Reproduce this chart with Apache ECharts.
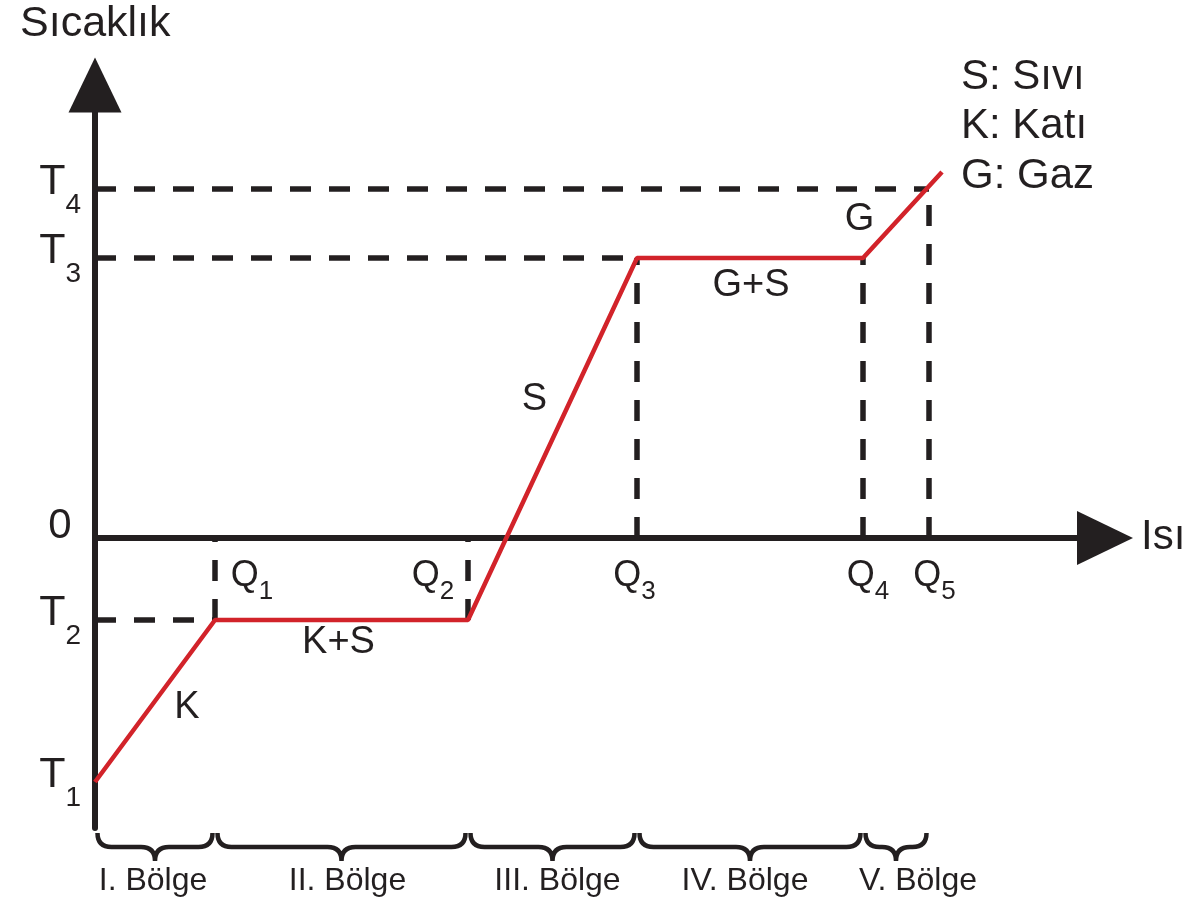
<!DOCTYPE html>
<html><head><meta charset="utf-8">
<script src="https://cdn.jsdelivr.net/npm/echarts@6/dist/echarts.min.js"></script>
<style>html,body{margin:0;padding:0;background:#fff}#main{width:1197px;height:903px}</style>
</head><body><div id="main"></div>
<script>
// ---- data ----
const heatSubs = ['1','2','3','4','5'];
const heatValues = [12.0, 37.3, 54.2, 76.8, 83.4];      // Q1..Q5
const tempSubs = ['1','2','3','4'];
const tempValues = [-24.4, -8.2, 28.0, 34.9];            // T1..T4
const curveEnd = [84.7, 36.6];
const phaseNames = ['K', 'K+S', 'S', 'G+S', 'G'];
const regionNames = ['I. Bölge', 'II. Bölge', 'III. Bölge', 'IV. Bölge', 'V. Bölge'];
const legendLines = ['S: Sıvı', 'K: Katı', 'G: Gaz'];
const axisNames = ['Sıcaklık', 'Isı'];
const xRange = [0, 101];
const yRange = [-29, 45.3];

// ---- styles ----
const FONT = 'Liberation Sans, Arial, Helvetica, sans-serif';
const INK = '#231f20';
const RED = '#d2232a';
const phaseOffsets = [[32, 7], [-3, 23], [-18, -39], [1, 28], [-43, 5]];
const qOffsets = [37, -35, -2.5, 5, 5.5];
const regionOffsets = [-2, 6, 5, -5, 22];

const [Q1, Q2, Q3, Q4, Q5] = heatValues;
const [T1, T2, T3, T4] = tempValues;
const curve = [[0, T1], [Q1, T2], [Q2, T2], [Q3, T3], [Q4, T3], curveEnd];

const dashed = [
  [[0, T2], [Q1, T2]],
  [[0, T3], [Q3, T3]],
  [[0, T4], [Q5, T4]],
  [[Q1, T2], [Q1, 0]],
  [[Q2, T2], [Q2, 0]],
  [[Q3, 0], [Q3, T3]],
  [[Q4, 0], [Q4, T3]],
  [[Q5, 0], [Q5, T4]]
];

const regionBounds = heatValues.map((q, i) => [i === 0 ? 0 : heatValues[i - 1], q, i]);

const phaseMid = phaseNames.map((n, i) => ({
  name: n,
  value: [(curve[i][0] + curve[i + 1][0]) / 2, (curve[i][1] + curve[i + 1][1]) / 2],
  label: { offset: phaseOffsets[i] }
}));

const solid = { opacity: 1 };
const series = [];
dashed.forEach(seg => series.push({
  type: 'line', data: seg, symbol: 'none', silent: true, z: 3,
  lineStyle: { color: INK, width: 5.5, type: [21, 18], cap: 'butt' }
}));
series.push({
  type: 'line', data: curve, symbol: 'none', z: 4, silent: true,
  lineStyle: { color: RED, width: 4.5 }
});
// T labels
series.push({
  type: 'scatter', symbolSize: 0, z: 5, silent: true, itemStyle: solid,
  data: tempValues.map((t, i) => ({ value: [0, t], sub: tempSubs[i] })),
  label: {
    show: true, position: 'left', distance: 14, offset: [0, -6], opacity: 1,
    formatter: p => '{m|T}{s|' + p.data.sub + '}',
    rich: {
      m: { fontFamily: FONT, fontSize: 43, lineHeight: 44, color: INK, verticalAlign: 'top' },
      s: { fontFamily: FONT, fontSize: 28, lineHeight: 28, color: INK, verticalAlign: 'top', padding: [30, 0, 0, 0] }
    }
  }
});
// Q labels
series.push({
  type: 'scatter', symbolSize: 0, z: 5, silent: true, itemStyle: solid,
  data: heatValues.map((q, i) => ({ value: [q, 0], sub: heatSubs[i], label: { offset: [qOffsets[i], 38.5] } })),
  label: {
    show: true, position: 'inside', opacity: 1,
    formatter: p => '{m|Q}{s|' + p.data.sub + '}',
    rich: {
      m: { fontFamily: FONT, fontSize: 36, lineHeight: 36, color: INK, verticalAlign: 'top' },
      s: { fontFamily: FONT, fontSize: 26, lineHeight: 26, color: INK, verticalAlign: 'top', padding: [20, 0, 0, 0] }
    }
  }
});
// zero label
series.push({
  type: 'scatter', symbolSize: 0, z: 5, silent: true, itemStyle: solid,
  data: [{ value: [0, 0] }],
  label: { show: true, position: 'inside', offset: [-35, -12], formatter: '0', opacity: 1,
    fontFamily: FONT, fontSize: 42, color: INK }
});
// phase labels
series.push({
  type: 'scatter', symbolSize: 0, z: 5, silent: true, itemStyle: solid,
  data: phaseMid,
  label: { show: true, position: 'inside', formatter: '{b}', fontFamily: FONT, fontSize: 38, color: INK, opacity: 1 }
});
// braces + region names
series.push({
  type: 'custom', coordinateSystem: 'cartesian2d', z: 5, silent: true,
  data: regionBounds, encode: { x: [0, 1], y: 2 },
  renderItem: function (params, api) {
    const i = api.value(2);
    const p0 = api.coord([api.value(0), yRange[0]]);
    const p1 = api.coord([api.value(1), yRange[0]]);
    const x0 = p0[0] + 2.5, x1 = p1[0] - 2.5, xm = (x0 + x1) / 2;
    const y0 = p0[1] + 5, yb = p0[1] + 19, yt = p0[1] + 33;
    const r = Math.min(14, (x1 - x0) / 4);
    const d = `M${x0} ${y0} Q${x0} ${yb} ${x0 + r} ${yb} L${xm - r} ${yb} Q${xm} ${yb} ${xm} ${yt} ` +
              `Q${xm} ${yb} ${xm + r} ${yb} L${x1 - r} ${yb} Q${x1} ${yb} ${x1} ${y0}`;
    return {
      type: 'group', children: [
        { type: 'path', shape: { pathData: d }, style: { stroke: INK, fill: 'none', lineWidth: 4.5 } },
        { type: 'text', x: xm + regionOffsets[i], y: p0[1] + 53,
          style: { text: regionNames[i], fill: INK, fontFamily: FONT, fontSize: 32, align: 'center', verticalAlign: 'middle' } }
      ]
    };
  }
});

const graphic = [
  { type: 'text', left: 20, top: 3, style: { text: axisNames[0], fill: INK, font: '43px ' + FONT } },
  { type: 'text', left: 1141, top: 516, style: { text: axisNames[1], fill: INK, font: '42px ' + FONT } }
].concat(legendLines.map((t, i) => ({
  type: 'text', left: 961, top: 56 + i * 49.5, style: { text: t, fill: INK, font: '42px ' + FONT }
})));

const chart = echarts.init(document.getElementById('main'), null, { renderer: 'canvas' });
chart.setOption({
  animation: false,
  backgroundColor: '#fff',
  grid: { left: 95, right: 92, top: 85, bottom: 75, outerBoundsMode: 'none', containLabel: false },
  xAxis: {
    type: 'value', min: xRange[0], max: xRange[1],
    axisLine: { show: true, onZero: true, symbol: ['none', 'triangle'], symbolSize: [54, 56],
      lineStyle: { color: INK, width: 6 } },
    axisTick: { show: false }, axisLabel: { show: false }, splitLine: { show: false }
  },
  yAxis: {
    type: 'value', min: yRange[0], max: yRange[1],
    axisLine: { show: true, onZero: true, symbol: ['none', 'triangle'], symbolSize: [53, 55],
      lineStyle: { color: INK, width: 6 } },
    axisTick: { show: false }, axisLabel: { show: false }, splitLine: { show: false }
  },
  graphic: graphic,
  series: series
});
</script></body></html>
